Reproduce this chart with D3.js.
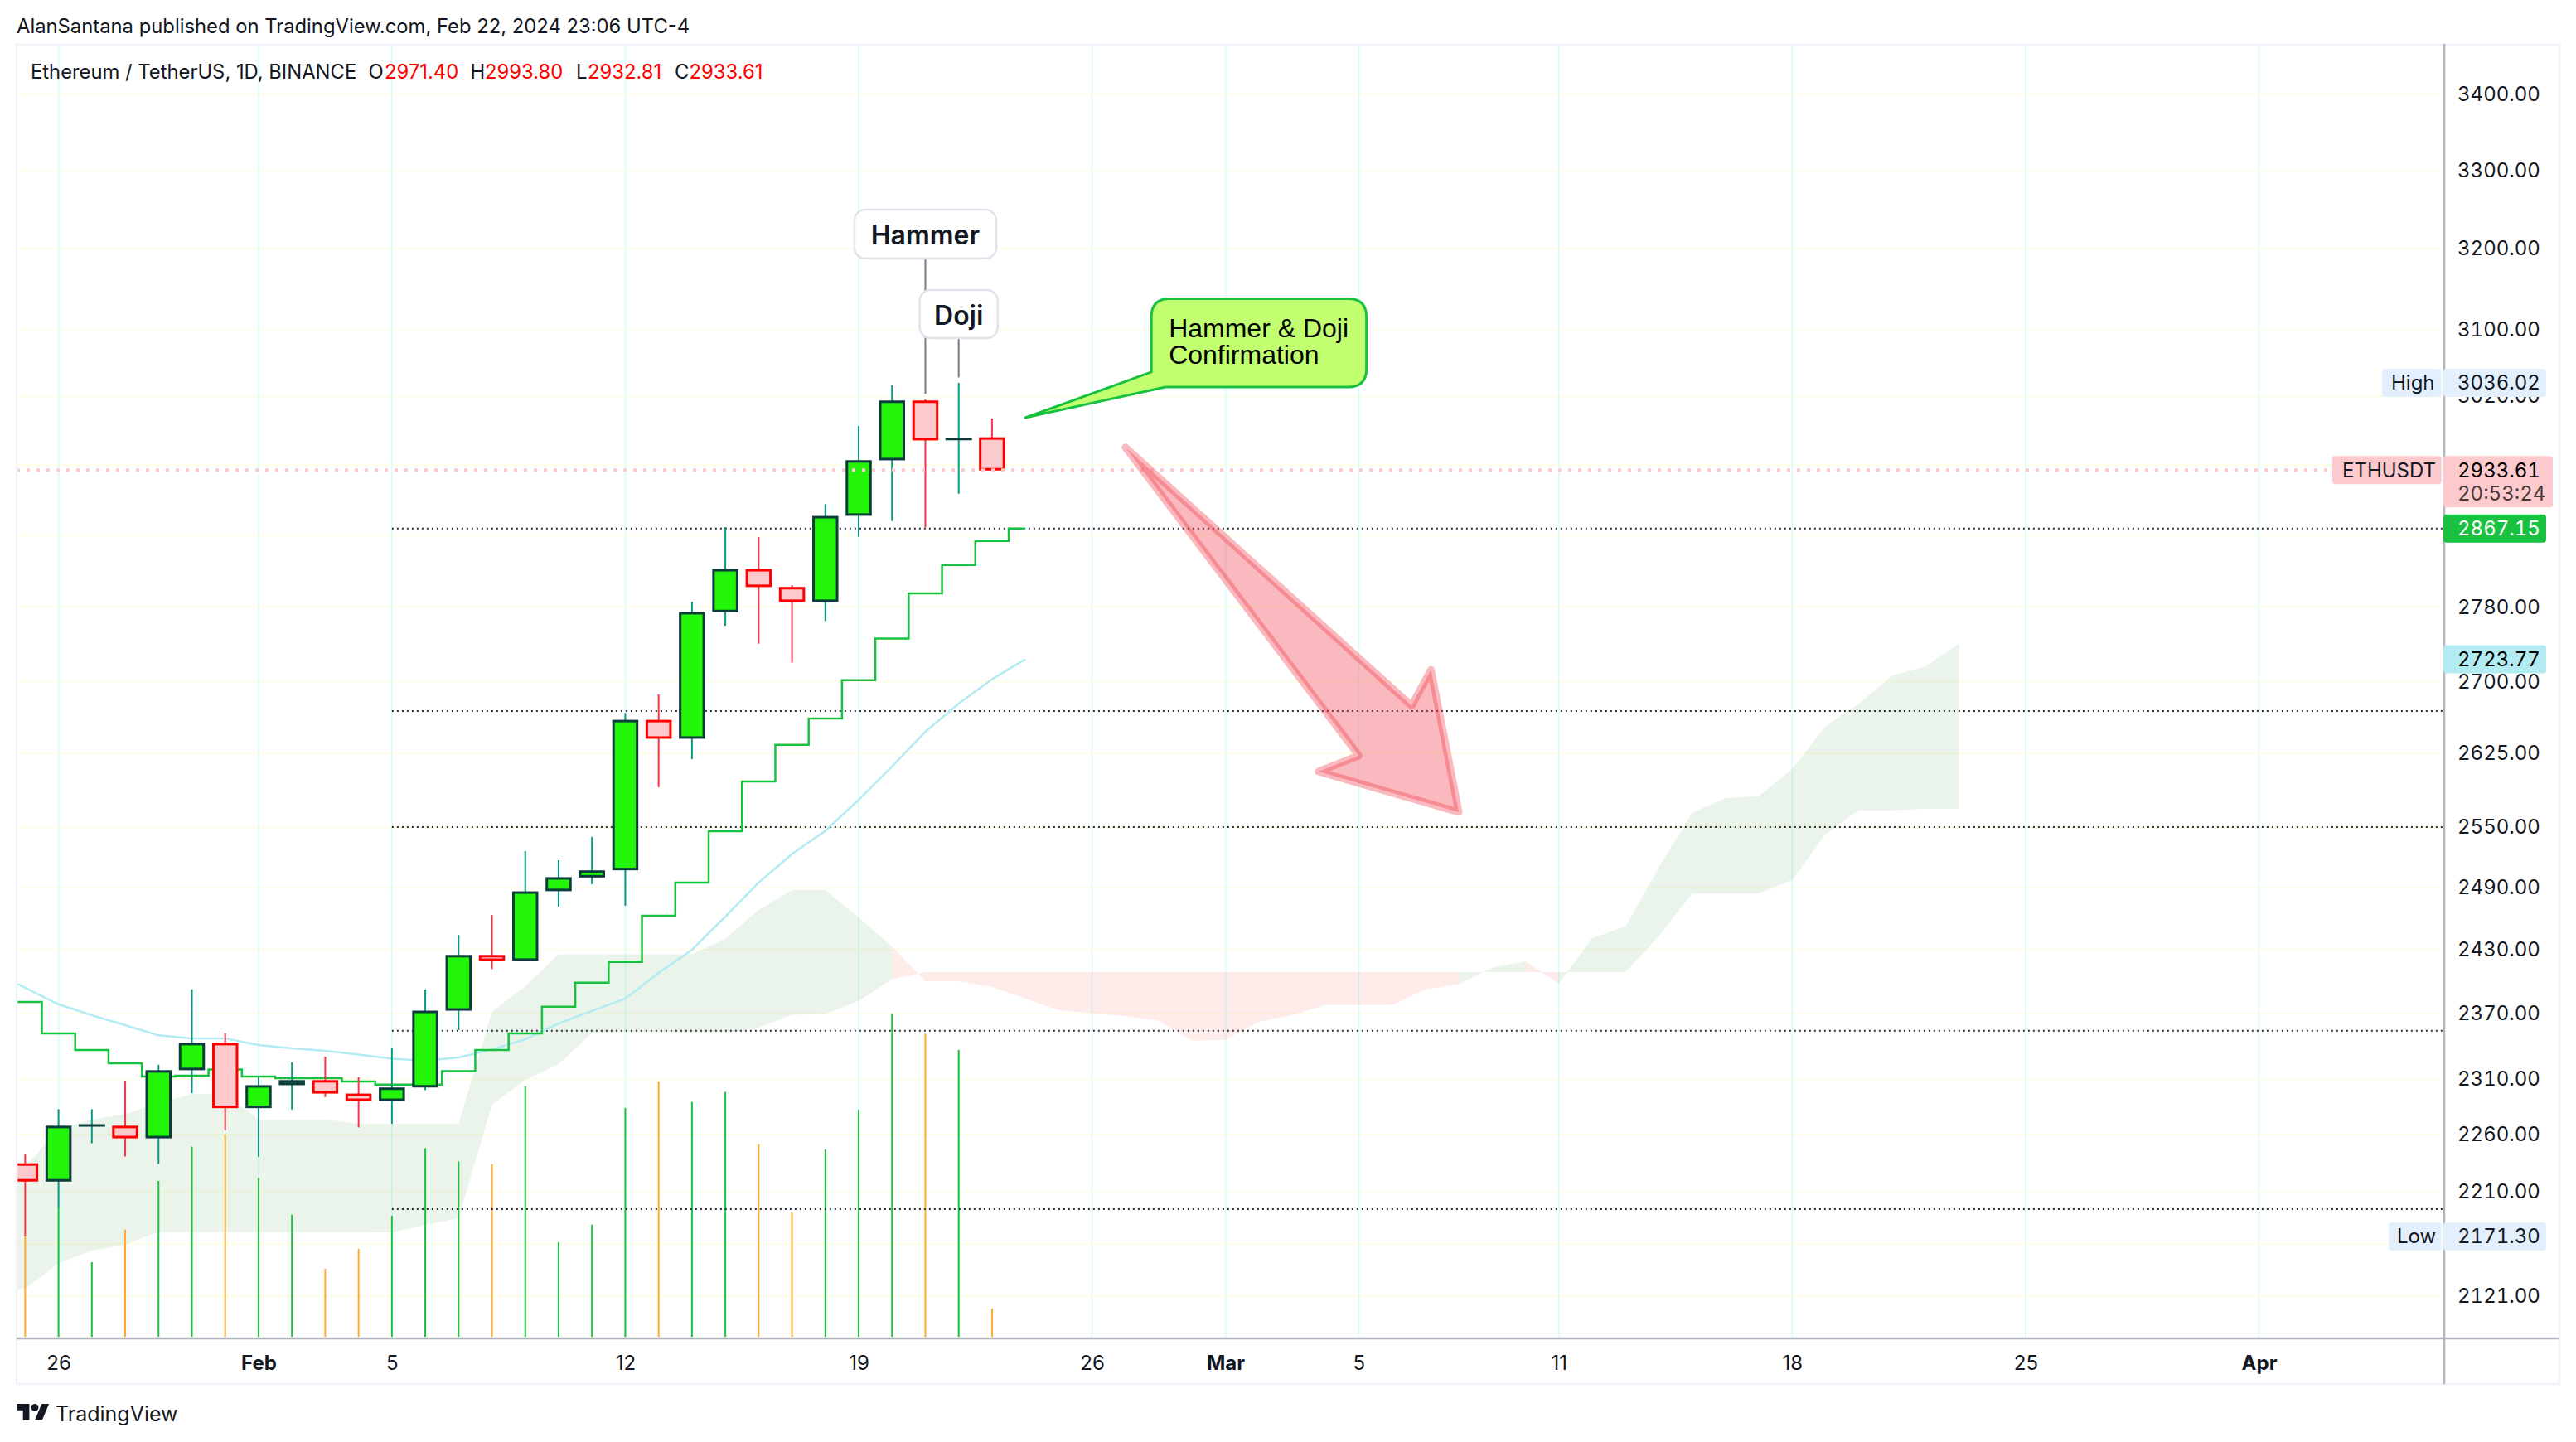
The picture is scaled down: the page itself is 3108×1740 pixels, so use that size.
<!DOCTYPE html>
<html><head><meta charset="utf-8">
<style>html,body{margin:0;padding:0;background:#fff}svg{display:block}text{font-family:Inter,"Noto Sans",sans-serif}.tn{font-variant-numeric:tabular-nums;font-feature-settings:"tnum" 1}</style>
</head><body><div id="chart"></div>
<script src="https://cdn.jsdelivr.net/npm/d3@7"></script>
<script>
// ---------- data (prices in USDT) ----------
const firstCandle = "2024-01-25";
const opens  = [2234.3,2218.9,2268.1,2267.5,2256.9,2318.1,2342.5,2283.8,2304.5,2308.5,2296.3,2290.2,2302.4,2372.9,2424.8,2419.8,2486.9,2500.3,2507.4,2659.3,2640.3,2774.8,2821.6,2801.8,2786.0,2881.9,2945.4,3014.6,2969.8,2971.40];
const highs  = [2243.0,2282.6,2282.6,2308.2,2322.7,2392.5,2351.6,2311.6,2324.9,2330.1,2311.3,2338.4,2392.5,2444.2,2463.4,2526.0,2517.0,2540.2,2666.8,2686.3,2786.0,2868.8,2857.6,2804.2,2894.8,2985.0,3033.0,3016.5,3036.02,2993.80];
const lows   = [2171.30,2196.1,2252.2,2240.6,2234.0,2296.9,2263.9,2240.3,2282.3,2293.5,2266.3,2269.6,2299.7,2354.6,2411.6,2419.8,2471.5,2493.4,2472.4,2590.3,2618.9,2759.8,2740.4,2720.1,2764.9,2857.9,2875.6,2868.2,2906.7,2932.81];
const closes = [2218.9,2267.5,2268.1,2256.9,2317.5,2342.5,2283.8,2303.9,2308.5,2296.9,2290.2,2301.8,2372.3,2424.8,2419.7,2486.1,2500.0,2506.7,2659.3,2640.3,2774.4,2821.6,2802.4,2786.0,2881.0,2944.8,3014.6,2968.5,2969.8,2933.61];
const volumes = [181,234,135,194,282,344,366,287,221,123,159,219,341,317,312,453,171,203,414,462,425,443,348,225,339,411,584,548,519,51];

const firstLine = "2024-01-24";
const baseLine = [2380.8,2380.8,2351.5,2336.2,2324.1,2312.0,2312.8,2318.4,2312.0,2310.5,2310.5,2307.5,2304.8,2304.8,2316.9,2336.2,2351.5,2376.3,2398.9,2418.4,2462.7,2495.0,2545.9,2596.1,2633.6,2661.0,2701.4,2745.9,2795.1,2826.5,2853.3,2867.15];
const emaLine  = [2409.6,2394.0,2378.6,2368.4,2359.2,2349.7,2346.9,2346.9,2340.8,2337.8,2335.5,2332.0,2328.2,2326.4,2329.4,2336.6,2346.1,2360.7,2372.3,2383.9,2408.0,2430.1,2461.9,2495.0,2523.1,2546.3,2577.5,2611.3,2647.3,2676.7,2702.4,2723.77];

const spanA = [2201.2,2231.5,2265.1,2273.2,2278.4,2288.1,2296.3,2296.3,2273.2,2273.2,2273.2,2269.5,2269.5,2269.5,2269.5,2371.7,2395.5,2425.7,2425.7,2425.7,2425.7,2425.7,2440.6,2468.3,2487.7,2487.7,2461.1,2433.2,2400.2,2400.2,2394.7,2383.9,2373.0,2370.2,2367.6,2363.2,2344.8,2345.6,2362.2,2368.4,2377.9,2377.9,2377.9,2392.4,2397.3,2413.0,2419.0,2397.9,2441.2,2452.3,2509.9,2564.4,2579.2,2581.1,2608.7,2653.3,2676.7,2706.5,2716.2,2740.4];
const spanB = [2126.5,2127.2,2148.4,2159.3,2164.2,2175.2,2175.2,2175.2,2175.2,2175.2,2175.2,2175.2,2174.8,2181.2,2186.9,2286.6,2309.0,2323.4,2351.9,2351.9,2351.9,2351.9,2351.9,2356.9,2368.8,2369.4,2381.7,2402.1,2408.8,2408.8,2408.8,2408.8,2408.8,2408.8,2408.8,2408.8,2408.8,2408.8,2408.8,2408.8,2408.8,2408.8,2408.8,2408.8,2408.8,2408.8,2408.8,2408.8,2408.8,2408.8,2442.8,2484.5,2484.5,2484.5,2497.7,2542.8,2566.9,2566.9,2568.3,2568.3];

const levels = [2867.15,2668.9,2550.0,2354.0,2194.8];
const levelsStart = "2024-02-05";
const lastPrice = 2933.61;
const highPrice = 3036.02;
const lowPrice = 2171.30;

const priceTicks = [3400,3300,3200,3100,3020,2940,2860,2780,2700,2625,2550,2490,2430,2370,2310,2260,2210,2165,2121];
const coveredTicks = [2940];
const dateTicks = ["2024-01-26","2024-02-01","2024-02-05","2024-02-12","2024-02-19","2024-02-26","2024-03-01","2024-03-05","2024-03-11","2024-03-18","2024-03-25","2024-04-01"];
const dateLabels = ["26","Feb","5","12","19","26","Mar","5","11","18","25","Apr"];
const boldLabels = ["Feb","Mar","Apr"];

// arrow annotation: day count after 25 Jan, price
const arrowDays   = [33.01,41.59,42.17,43.0,38.81,40.0];
const arrowPrices = [2960.0,2674.4,2712.4,2565.0,2606.2,2622.6];
const calloutTipDate = "2024-02-24", calloutTipPrice = 2994.8;

const headerText = "AlanSantana published on TradingView.com, Feb 22, 2024 23:06 UTC-4";

// ---------- layout ----------
const W=3108,H=1740, L=20,T=53,R=2949,B=1615, RO=3088, BO=1670;
const ink="#131722";
const parse=s=>new Date(s+"T00:00:00Z");
const days=(start,n)=>d3.range(n).map(i=>d3.utcDay.offset(parse(start),i));

const x=d3.scaleUtc().domain([parse("2024-01-26"),parse("2024-04-01")]).range([70.6,2725.5]);
const y=d3.scaleLog().domain([2121,3400]).range([1564,114]);
const v=d3.scaleLinear().domain([0,1000]).range([1613,946]);

const svg=d3.select("#chart").append("svg").attr("width",W).attr("height",H).attr("viewBox",`0 0 ${W} ${H}`);
svg.append("rect").attr("width",W).attr("height",H).attr("fill","#fff");
svg.append("defs").append("clipPath").attr("id","pane").append("rect").attr("x",L).attr("y",T).attr("width",R-L).attr("height",B-T);

// header
svg.append("text").attr("x",20).attr("y",40).attr("font-size",23.8).attr("fill",ink).text(headerText);

const pane=svg.append("g").attr("clip-path","url(#pane)");

// grid
pane.append("g").selectAll("line").data(priceTicks).join("line")
  .attr("x1",L).attr("x2",R).attr("y1",d=>y(d)).attr("y2",d=>y(d)).attr("stroke","#fffde7").attr("stroke-width",2);
pane.append("g").selectAll("line").data(dateTicks).join("line")
  .attr("x1",d=>x(parse(d))).attr("x2",d=>x(parse(d))).attr("y1",T).attr("y2",B).attr("stroke","#e0fbfb").attr("stroke-width",2);

// cloud: each stretch takes its colour from the bar it ends on
const cloudDates=days(firstLine,spanA.length);
const cloud=cloudDates.map((d,i)=>({d,a:spanA[i],b:spanB[i]}));
const cloudArea=d3.area().x(c=>x(c.d)).y0(c=>y(c.b)).y1(c=>y(c.a));
const runs=[];
for(let i=1;i<cloud.length;i++){
  const up=cloud[i].a>=cloud[i].b, last=runs[runs.length-1];
  if(last&&last.up===up) last.pts.push(cloud[i]);
  else runs.push({up,pts:[cloud[i-1],cloud[i]]});
}
pane.append("g").selectAll("path").data(runs).join("path")
  .attr("d",r=>cloudArea(r.pts)).attr("fill",r=>r.up?"rgba(67,160,71,0.115)":"rgba(244,67,54,0.1)");

// volume
const candleDates=days(firstCandle,opens.length);
const candles=candleDates.map((d,i)=>({d,o:opens[i],h:highs[i],l:lows[i],c:closes[i],vol:volumes[i],up:closes[i]>=opens[i]}));
pane.append("g").selectAll("rect").data(candles).join("rect")
  .attr("x",c=>x(c.d)-1).attr("width",2).attr("y",c=>v(c.vol)).attr("height",c=>v(0)-v(c.vol))
  .attr("fill",c=>c.up?"#1bc241":"#ffa931");

// price levels
const lvlStartX=x(parse(levelsStart));
pane.append("g").selectAll("line").data(levels).join("line")
  .attr("x1",lvlStartX).attr("x2",R).attr("y1",d=>y(d)).attr("y2",d=>y(d))
  .attr("stroke","#2a2e39").attr("stroke-width",2).attr("stroke-dasharray","2 4");

// lines
const lineDates=days(firstLine,baseLine.length);
pane.append("path").attr("fill","none").attr("stroke","#b2ebf2").attr("stroke-width",2.5)
  .attr("d",d3.line().x((_,i)=>x(lineDates[i])).y(d=>y(d))(emaLine));
pane.append("path").attr("fill","none").attr("stroke","#18c13f").attr("stroke-width",2.5)
  .attr("d",d3.line().curve(d3.curveStep).x((_,i)=>x(lineDates[i])).y(d=>y(d))(baseLine));

// candles
const bw=28.5;
pane.append("g").selectAll("line").data(candles).join("line")
  .attr("x1",c=>x(c.d)).attr("x2",c=>x(c.d)).attr("y1",c=>y(c.h)).attr("y2",c=>y(c.l))
  .attr("stroke",c=>c.up?"#089981":"#f23645").attr("stroke-width",2);
pane.append("g").selectAll("rect").data(candles.filter(c=>Math.abs(c.o-c.c)>0.5)).join("rect")
  .attr("x",c=>x(c.d)-bw/2).attr("width",bw)
  .attr("y",c=>y(Math.max(c.o,c.c))+1.1).attr("height",c=>Math.max(1,y(Math.min(c.o,c.c))-y(Math.max(c.o,c.c))-2.2))
  .attr("fill",c=>c.up?"#22f508":"#fcc9cc").attr("stroke",c=>c.up?"#0b3b3a":"#ff0000").attr("stroke-width",3);
pane.append("g").selectAll("line").data(candles.filter(c=>Math.abs(c.o-c.c)<=0.5)).join("line")
  .attr("x1",c=>x(c.d)-16).attr("x2",c=>x(c.d)+16).attr("y1",c=>y(c.c)).attr("y2",c=>y(c.c))
  .attr("stroke","#0b3b3a").attr("stroke-width",3);

// last price line
pane.append("line").attr("x1",L).attr("x2",R).attr("y1",y(lastPrice)).attr("y2",y(lastPrice))
  .attr("stroke","#fccbcd").attr("stroke-width",4).attr("stroke-dasharray","4 8");

// arrow
const arrowPts=arrowDays.map((d,i)=>[x(d3.utcHour.offset(parse(firstCandle),Math.round(d*24))),y(arrowPrices[i])]);
pane.append("path").attr("d",d3.line()(arrowPts)+"Z")
  .attr("fill","rgba(242,54,69,0.35)").attr("stroke","rgba(242,54,69,0.35)").attr("stroke-width",9).attr("stroke-linejoin","round");

// Hammer / Doji labels
function stem(date,high,fromY){
  const cx=x(parse(date));
  svg.append("line").attr("x1",cx).attr("x2",cx).attr("y1",fromY).attr("y2",y(high)-6.5).attr("stroke","#787b86").attr("stroke-width",2);
}
function note(date,txt,wL,wR,top,bottom){
  const cx=x(parse(date));
  svg.append("rect").attr("x",cx-wL).attr("y",top).attr("width",wL+wR).attr("height",bottom-top).attr("rx",13)
    .attr("fill","#fff").attr("stroke","#e0e3eb").attr("stroke-width",2.5);
  svg.append("text").attr("x",cx-wL+(wL+wR)/2).attr("y",(top+bottom)/2+12.5).attr("text-anchor","middle")
    .attr("font-size",32).attr("font-weight",600).attr("fill",ink).text(txt);
}
stem("2024-02-21",highs[27],312);
stem("2024-02-22",highs[28],408);
note("2024-02-21","Hammer",85.5,85.5,253,312);
note("2024-02-22","Doji",47,47,350,408);

// callout
const tipX=x(parse(calloutTipDate)), tipY=y(calloutTipPrice);
const bx0=tipX+152, bx1=tipX+411.5, by0=tipY-143.5, by1=tipY-37, r=22;
const calloutPath=`M${bx0+r},${by0} H${bx1-r} Q${bx1},${by0} ${bx1},${by0+r} V${by1-r} Q${bx1},${by1} ${bx1-r},${by1} H${bx0+17} L${tipX},${tipY} L${bx0},${by1-18} V${by0+r} Q${bx0},${by0} ${bx0+r},${by0} Z`;
svg.append("path").attr("d",calloutPath).attr("fill","#c2ff70").attr("stroke","#18c13f").attr("stroke-width",3).attr("stroke-linejoin","round");
["Hammer & Doji","Confirmation"].forEach((t,i)=>svg.append("text").attr("x",bx0+21).attr("y",tipY-96.5+i*31.6)
  .style("font-family","'Liberation Sans',Arial,sans-serif").attr("font-size",32).attr("fill","#000").text(t));

// legend
[[37,"Ethereum / TetherUS, 1D, BINANCE",ink],[444.5,"O",ink],[464,"2971.40","#ff0000"],[567.6,"H",ink],[585,"2993.80","#ff0000"],[695,"L",ink],[709,"2932.81","#ff0000"],[814,"C",ink],[831.6,"2933.61","#ff0000"]]
 .forEach(([px,t,c])=>svg.append("text").attr("x",px).attr("y",95).attr("font-size",23.8).attr("fill",c).text(t));

// axes
const yAxis=d3.axisRight(y).tickValues(priceTicks.filter(t=>!coveredTicks.includes(t))).tickSize(0).tickPadding(16).tickFormat(d3.format(".2f"));
const yg=svg.append("g").attr("transform",`translate(${R},0)`).call(yAxis);
yg.select(".domain").remove();
yg.selectAll("text").attr("class","tn").attr("font-size",24).attr("fill",ink).style("font-family","Inter");

const labelOf=new Map(dateTicks.map((d,i)=>[+parse(d),dateLabels[i]]));
const xAxis=d3.axisBottom(x).tickValues(dateTicks.map(parse)).tickSize(0).tickPadding(20.7).tickFormat(d=>labelOf.get(+d));
const xg=svg.append("g").attr("transform",`translate(0,${B})`).call(xAxis);
xg.select(".domain").remove();
xg.selectAll("text").attr("font-size",24).attr("fill",ink).style("font-family","Inter")
  .attr("font-weight",function(){return boldLabels.includes(this.textContent)?700:400;});

// frame
svg.append("rect").attr("x",L).attr("y",T+1).attr("width",RO-L).attr("height",BO-T-1).attr("fill","none").attr("stroke","#f0f3fa").attr("stroke-width",2.5);
svg.append("line").attr("x1",L).attr("x2",RO).attr("y1",B).attr("y2",B).attr("stroke","#b2b5be").attr("stroke-width",2.5);
svg.append("line").attr("x1",R).attr("x2",R).attr("y1",T).attr("y2",BO).attr("stroke","#b2b5be").attr("stroke-width",2.5);

// price tags
function tag(x0,x1,cy,up,down,bg){
  svg.append("rect").attr("x",x0).attr("y",cy-up).attr("width",x1-x0).attr("height",up+down).attr("rx",4).attr("fill",bg);
}
function tagText(px,cy,t,c,op){
  svg.append("text").attr("class","tn").attr("x",px).attr("y",cy+8.3).attr("font-size",24).attr("fill",c).attr("fill-opacity",op||1).text(t);
}
const fmt=d3.format(".2f");
[[highPrice,"High","#e3effd",2874,2885],[lowPrice,"Low","#e3effd",2882,2892]].forEach(([p,t,bg,x0,tx])=>{
  const cy=y(p);
  tag(x0,2945.7,cy,17,17,bg); tagText(tx,cy,t,ink);
  tag(2948,3072,cy,17,17,bg); tagText(2965,cy,fmt(p),ink);
});
{
  const cy=y(lastPrice);
  tag(2814,2945.7,cy,17,17,"#fcc9cc"); tagText(2826,cy,"ETHUSDT",ink);
  tag(2948,3080,cy,17,45,"#fcc9cc"); tagText(2965,cy,fmt(lastPrice),"#000"); tagText(2965,cy+28,"20:53:24","#000",0.72);
}
{
  const p=baseLine[baseLine.length-1], cy=y(p);
  tag(2948,3072,cy,17,17,"#18c13f"); tagText(2965,cy,fmt(p),"#fff");
}
{
  const p=emaLine[emaLine.length-1], cy=y(p);
  tag(2948,3072,cy,17,17,"#b2ebf2"); tagText(2965,cy,fmt(p),"#000");
}

// brand
const logo=svg.append("g").attr("transform","translate(20,1689.6) scale(1.1)").attr("fill",ink);
logo.append("path").attr("d","M14 22H7V11H0V4h14v18zM28 22h-8l7.5-18h8L28 22z");
logo.append("circle").attr("cx",20).attr("cy",8).attr("r",4);
svg.append("text").attr("x",67).attr("y",1715).attr("font-size",25).attr("font-weight",400).attr("fill",ink).text("TradingView");
</script></body></html>
